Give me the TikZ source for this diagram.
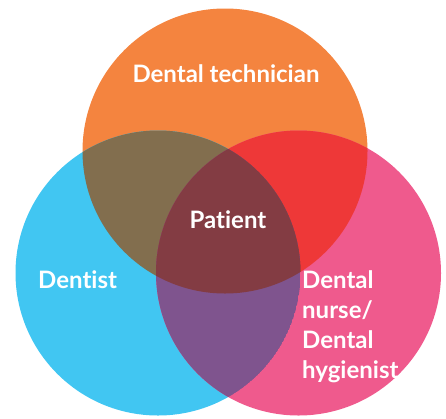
\documentclass[tikz,border=0pt]{standalone}
\usepackage{fontspec}
\setmainfont{Lato}[Ligatures=NoCommon]
\definecolor{cOrange}{HTML}{F4843F}
\definecolor{cBlue}{HTML}{41C6F2}
\definecolor{cPink}{HTML}{EF5A8D}
\definecolor{cBrown}{HTML}{826E4E}
\definecolor{cRed}{HTML}{EE3838}
\definecolor{cPurple}{HTML}{7F548E}
\definecolor{cCenter}{HTML}{833C43}
\begin{document}
\begin{tikzpicture}[x=1pt,y=-1pt,
  lbl/.style={text=white,font=\bfseries\fontsize{24}{30}\selectfont,inner sep=0pt}]
\useasboundingbox (0,0) rectangle (446,418);
\def\R{142.5}
\coordinate (T) at (225,151);
\coordinate (L) at (158,273);
\coordinate (Rc) at (298.5,273);
\fill[cOrange] (T) circle (\R);
\fill[cBlue] (L) circle (\R);
\fill[cPink] (Rc) circle (\R);
\begin{scope}
  \clip (T) circle (\R);
  \fill[cBrown] (L) circle (\R);
  \fill[cRed] (Rc) circle (\R);
  \clip (L) circle (\R);
  \fill[cCenter] (Rc) circle (\R);
\end{scope}
\begin{scope}
  \clip (L) circle (\R);
  \clip (Rc) circle (\R);
  \fill[cPurple] (L) circle (\R);
  \fill[cCenter] (T) circle (\R);
\end{scope}
\node[lbl,anchor=base] (tech) at (226,82) {Dental technician};
\node[lbl,anchor=base] (pat) at (228,228) {Patient};
\node[lbl,anchor=base west] (dent) at (38,288) {Dentist};
\node[lbl,anchor=base west,align=left] (nurse) at (302,378) {Dental\\nurse/\\Dental\\hygienist};
\end{tikzpicture}
\end{document}
